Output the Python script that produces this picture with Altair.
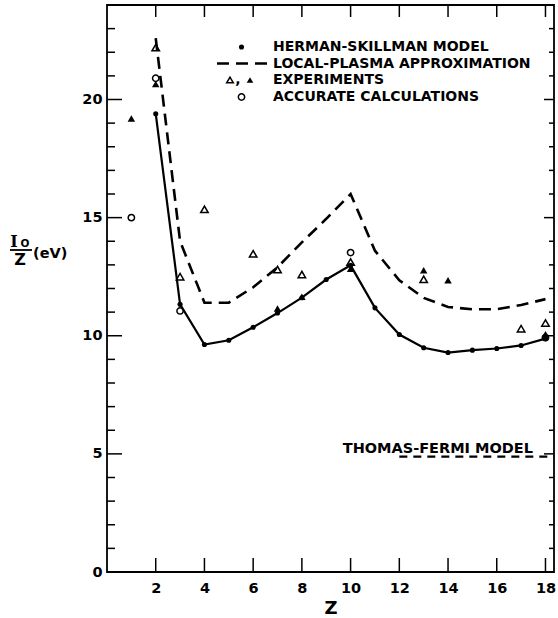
import altair as alt
import pandas as pd

# Mean excitation energy per electron, I0/Z (eV), versus atomic number Z
z_model = list(range(2, 19))
herman_skillman = [19.4, 11.33, 9.63, 9.81, 10.36, 10.96, 11.61, 12.38, 12.98,
                   11.18, 10.05, 9.49, 9.29, 9.39, 9.46, 9.59, 9.88]
local_plasma = [22.6, 14.0, 11.4, 11.4, 12.05, 12.9, 13.95, 14.95, 16.0,
                13.6, 12.35, 11.6, 11.22, 11.12, 11.12, 11.3, 11.55]

z_exp_open = [2, 3, 4, 6, 7, 8, 10, 13, 17, 18]
exp_open = [22.2, 12.5, 15.35, 13.47, 12.8, 12.59, 13.12, 12.39, 10.3, 10.54]

z_exp_filled = [1, 2, 7, 8, 10, 13, 14, 18]
exp_filled = [19.2, 20.66, 11.15, 11.65, 12.84, 12.77, 12.35, 10.06]

z_accurate = [1, 2, 3, 10, 18]
accurate = [15.0, 20.9, 11.05, 13.52, 9.92]

z_thomas_fermi = [12, 18.35]
thomas_fermi = [4.88, 4.88]

x_ticks = [2, 4, 6, 8, 10, 12, 14, 16, 18]
y_major = [0, 5, 10, 15, 20]
y_minor = [v for v in range(1, 24) if v % 5]

legend_labels = ["HERMAN-SKILLMAN MODEL", "LOCAL-PLASMA APPROXIMATION",
                 "EXPERIMENTS", "ACCURATE CALCULATIONS"]

W, H = 447, 567
FONT = "DejaVu Sans"
xs = alt.Scale(domain=[0, 18.35], nice=False, zero=False)
ys = alt.Scale(domain=[0, 24], nice=False)

x_axis = alt.Axis(values=x_ticks, format="d", grid=False, ticks=False,
                  tickSize=0, domain=False, labelPadding=9,
                  labelFont=FONT, labelFontSize=14.5, labelFontWeight="bold",
                  labelColor="black", titleFont=FONT, titleFontSize=18,
                  titleFontWeight="bold", titleColor="black", titlePadding=5)
y_axis = alt.Axis(values=y_major, format="d", grid=False, ticks=False,
                  tickSize=0, domain=False, labelPadding=5,
                  labelFont=FONT, labelFontSize=14.5, labelFontWeight="bold",
                  labelColor="black")

X = alt.X("Z:Q", scale=xs, title="Z", axis=x_axis)
Y = alt.Y("v:Q", scale=ys, title=None, axis=y_axis)


def frame(z, v):
    return pd.DataFrame({"Z": z, "v": v})


hs_line = alt.Chart(frame(z_model, herman_skillman)).mark_line(
    color="black", strokeWidth=2.2
).encode(x=X, y=Y)

hs_points = alt.Chart(frame(z_model, herman_skillman)).mark_point(
    shape="circle", filled=True, size=26, color="black", opacity=1
).encode(x=X, y=Y)

lp_line = alt.Chart(frame(z_model, local_plasma)).mark_line(
    color="black", strokeWidth=2.6, strokeDash=[12, 7]
).encode(x=X, y=Y)

tf_line = alt.Chart(frame(z_thomas_fermi, thomas_fermi)).mark_line(
    color="black", strokeWidth=2.2, strokeDash=[8, 6]
).encode(x=X, y=Y)

open_tri = alt.Chart(frame(z_exp_open, exp_open)).mark_point(
    shape="triangle-up", filled=False, size=56, color="black", strokeWidth=1.5, opacity=1
).encode(x=X, y=Y)

filled_tri = alt.Chart(frame(z_exp_filled, exp_filled)).mark_point(
    shape="triangle-up", filled=True, size=56, color="black", opacity=1
).encode(x=X, y=Y)

open_circ = alt.Chart(frame(z_accurate, accurate)).mark_point(
    shape="circle", filled=False, size=40, color="black", strokeWidth=1.5, opacity=1
).encode(x=X, y=Y)

tf_label = alt.Chart(pd.DataFrame({"t": ["THOMAS-FERMI MODEL"]})).mark_text(
    font=FONT, fontSize=14.5, fontWeight="bold", align="right", baseline="alphabetic",
    color="black"
).encode(text="t:N", x=alt.value(533 - 107), y=alt.value(453 - 5))


# inward tick marks on all four sides of the frame
def y_ticks(values, x0, x1):
    return alt.Chart(pd.DataFrame({"v": values})).mark_rule(
        color="black", strokeWidth=1.5
    ).encode(y=Y, x=alt.value(x0), x2=alt.value(x1))


def x_ticks_rule(values, y0, y1):
    return alt.Chart(pd.DataFrame({"Z": values})).mark_rule(
        color="black", strokeWidth=1.5
    ).encode(x=X, y=alt.value(y0), y2=alt.value(y1))


tick_layers = [
    y_ticks(y_major[1:], 0, 15),
    y_ticks(y_minor, 0, 8),
    y_ticks(y_major[1:], W, W - 10),
    y_ticks(y_minor, W, W - 5),
    x_ticks_rule(x_ticks, H, H - 14),
    x_ticks_rule(x_ticks, 0, 12),
]

# legend
row_y = [42, 58.5, 75, 92]
one = pd.DataFrame({"k": [0]})
legend_layers = []
for label, ry in zip(legend_labels, row_y):
    legend_layers.append(
        alt.Chart(pd.DataFrame({"t": [label]})).mark_text(
            font=FONT, fontSize=14, fontWeight="bold", align="left", baseline="middle",
            color="black"
        ).encode(text="t:N", x=alt.value(166), y=alt.value(ry))
    )
legend_layers += [
    alt.Chart(one).mark_point(shape="circle", filled=True, size=26, color="black",
                              opacity=1).encode(x=alt.value(134.5), y=alt.value(row_y[0])),
    alt.Chart(one).mark_rule(color="black", strokeWidth=2.6, strokeDash=[12, 7]).encode(
        x=alt.value(110), x2=alt.value(160), y=alt.value(row_y[1])),
    alt.Chart(one).mark_point(shape="triangle-up", filled=False, size=44, color="black",
                              strokeWidth=1.5, opacity=1).encode(
        x=alt.value(123), y=alt.value(row_y[2])),
    alt.Chart(pd.DataFrame({"t": [","]})).mark_text(
        font=FONT, fontSize=14, fontWeight="bold", color="black", baseline="middle"
    ).encode(text="t:N", x=alt.value(131), y=alt.value(row_y[2])),
    alt.Chart(one).mark_point(shape="triangle-up", filled=True, size=44, color="black",
                              opacity=1).encode(x=alt.value(143), y=alt.value(row_y[2])),
    alt.Chart(one).mark_point(shape="circle", filled=False, size=40, color="black",
                              strokeWidth=1.5, opacity=1).encode(
        x=alt.value(134.5), y=alt.value(row_y[3])),
]

# y-axis title drawn as a fraction: I0 / Z (eV)
ty = 250 - 5
title_layers = [
    alt.Chart(pd.DataFrame({"t": ["I"]})).mark_text(
        font="DejaVu Serif", fontSize=16, fontWeight="bold", color="black",
        align="center", baseline="alphabetic"
    ).encode(text="t:N", x=alt.value(14 - 107), y=alt.value(ty - 3)),
    alt.Chart(pd.DataFrame({"t": ["O"]})).mark_text(
        font=FONT, fontSize=10.5, fontWeight="bold", color="black",
        align="center", baseline="alphabetic"
    ).encode(text="t:N", x=alt.value(25 - 107), y=alt.value(ty - 3)),
    alt.Chart(one).mark_rule(color="black", strokeWidth=1.8).encode(
        x=alt.value(10 - 107), x2=alt.value(32 - 107), y=alt.value(ty)),
    alt.Chart(pd.DataFrame({"t": ["Z"]})).mark_text(
        font=FONT, fontSize=16, fontWeight="bold", color="black",
        align="center", baseline="top"
    ).encode(text="t:N", x=alt.value(20 - 107), y=alt.value(ty + 2)),
    alt.Chart(pd.DataFrame({"t": ["(eV)"]})).mark_text(
        font=FONT, fontSize=14.5, fontWeight="bold", color="black",
        align="left", baseline="middle"
    ).encode(text="t:N", x=alt.value(33 - 107), y=alt.value(ty + 4)),
]

chart = alt.layer(
    hs_line, lp_line, tf_line, hs_points, open_tri, filled_tri, open_circ,
    tf_label, *tick_layers, *legend_layers, *title_layers
).properties(
    width=W, height=H,
    padding={"left": 107, "top": 5, "right": 4, "bottom": 46},
    autosize=alt.AutoSizeParams(type="none"),
    background="white",
).configure_view(stroke="black", strokeWidth=1.8)

chart.save("out.html", embed_options={"renderer": "svg", "actions": False})
